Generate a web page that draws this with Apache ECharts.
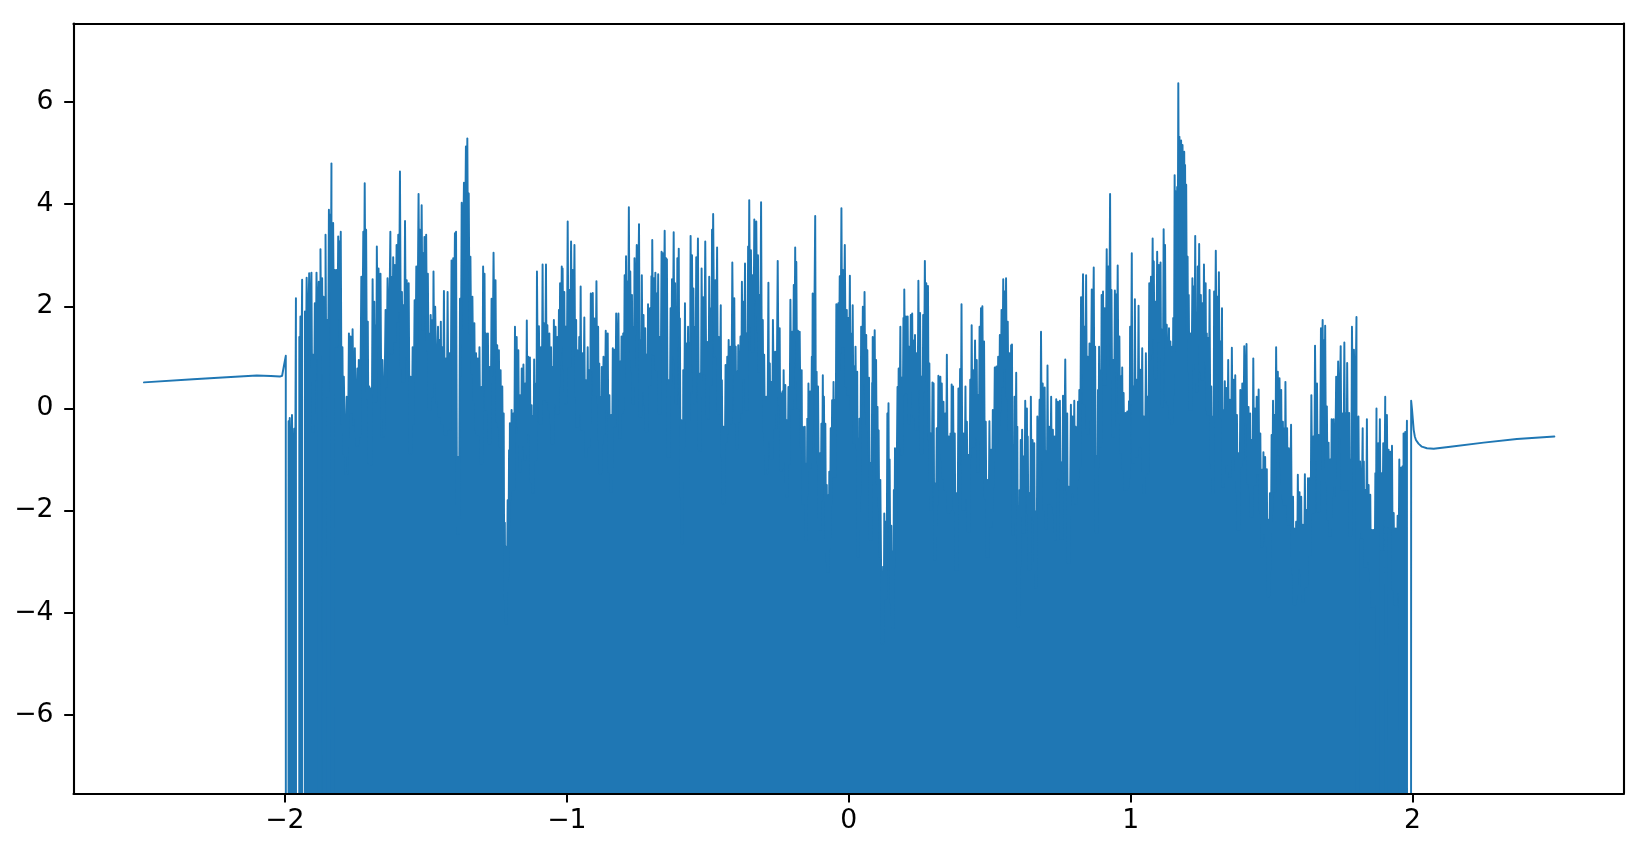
<!DOCTYPE html>
<html>
<head>
<meta charset="utf-8">
<style>html,body{margin:0;padding:0;background:#fff}#c{width:1648px;height:848px}</style>
<script src="https://cdn.jsdelivr.net/npm/echarts@6/dist/echarts.min.js"></script>
</head>
<body>
<div id="c"></div>
<script>
const xTicks = [-2, -1, 0, 1, 2];
const yTicks = [-6, -4, -2, 0, 2, 4, 6];
const xRange = [-2.75, 2.75];
const yRange = [-7.54, 7.54];

const tailLeft = [[-2.5,0.51],[-2.326,0.57],[-2.207,0.61],[-2.1,0.643],[-2.05,0.635],[-2.018,0.624],[-2.01,0.64],[-2.004,0.82],[-1.997,1.03]];
const tailRight = [[1.995,0.15],[1.998,-0.02],[2.001,-0.22],[2.004,-0.42],[2.008,-0.55],[2.012,-0.62],[2.021,-0.69],[2.033,-0.75],[2.051,-0.78],[2.075,-0.79],[2.134,-0.75],[2.252,-0.67],[2.37,-0.6],[2.503,-0.55]];

const spikesA = [[-1.987,-0.25],[-1.983,-0.19],[-1.975,-0.13],[-1.967,-0.4],[-1.961,2.16],[-1.949,1.4],[-1.945,1.8],[-1.939,2.52],[-1.929,1.9],[-1.923,2.56],[-1.914,2.65],[-1.906,2.66],[-1.9,1.05],[-1.894,2.06],[-1.888,2.66],[-1.88,2.48],[-1.874,3.12],[-1.868,2.55],[-1.863,2.19],[-1.856,3.4],[-1.85,1.73],[-1.844,3.89],[-1.839,3.8],[-1.835,4.8],[-1.829,3.63],[-1.823,2.71],[-1.817,2.71],[-1.811,3.37],[-1.807,3.27],[-1.802,3.46]];

const spikesB = [[-1.796,1.2],[-1.791,0.62],[-1.781,0.23],[-1.773,1.47],[-1.767,1.41],[-1.76,1.55],[-1.752,1.18],[-1.743,0.78],[-1.738,0.95],[-1.729,2.58],[-1.722,3.46],[-1.717,4.41],[-1.712,3.5],[-1.706,1.7],[-1.701,0.43],[-1.696,0.39],[-1.689,2.53],[-1.683,2.09],[-1.678,1.63],[-1.674,3.17],[-1.668,2.74],[-1.661,2.64],[-1.654,0.95],[-1.643,1.93],[-1.636,2.55],[-1.626,3.46],[-1.622,2.58],[-1.616,2.96],[-1.61,2.81],[-1.604,3.2],[-1.598,3.4],[-1.592,4.64],[-1.585,2.28],[-1.58,2.02],[-1.574,3.67],[-1.568,2.51],[-1.561,2.45],[-1.554,0.62],[-1.547,1.2],[-1.54,2.12],[-1.534,2.78],[-1.526,4.2],[-1.521,3.5],[-1.515,3.98],[-1.509,3.04],[-1.505,3.36],[-1.499,3.4],[-1.493,2.64],[-1.486,1.47],[-1.483,1.83],[-1.477,1.73],[-1.473,2.68],[-1.467,1.99],[-1.457,1.6],[-1.452,1.34],[-1.447,1.7],[-1.442,1.2],[-1.436,2.3],[-1.429,0.98],[-1.423,2.28],[-1.416,1.08],[-1.409,2.9],[-1.403,2.94],[-1.397,3.43],[-1.393,3.46],[-1.386,-0.95],[-1.379,2.15],[-1.373,4.03],[-1.365,4.42],[-1.358,5.13],[-1.353,5.29],[-1.348,4.21],[-1.342,2.97],[-1.335,2.19],[-1.328,1.67],[-1.322,1.08],[-1.316,0.98],[-1.31,1.2],[-1.303,0.42],[-1.297,2.78],[-1.292,2.64],[-1.287,1.47],[-1.28,1.47],[-1.274,0.81],[-1.267,2.15],[-1.26,3.05],[-1.253,2.51],[-1.247,1.24],[-1.241,1.14],[-1.235,0.75],[-1.229,0.43],[-1.224,-0.1],[-1.22,-2.24],[-1.216,-2.71],[-1.21,-1.8],[-1.205,-0.82],[-1.202,-0.29],[-1.196,-0.03],[-1.19,-0.1],[-1.184,1.6],[-1.178,1.4],[-1.172,1.14],[-1.166,0.26],[-1.16,0.78],[-1.154,0.86],[-1.148,0.49],[-1.142,1.72],[-1.137,1.01],[-1.131,1.0],[-1.125,0.06],[-1.121,-0.15],[-1.116,0.96],[-1.11,0.49],[-1.106,2.68],[-1.099,1.61],[-1.092,1.2],[-1.086,2.82],[-1.081,1.67],[-1.074,2.82],[-1.069,1.63],[-1.062,1.47],[-1.056,1.2],[-1.051,0.81],[-1.046,1.73],[-1.04,1.6],[-1.034,1.4],[-1.028,1.93],[-1.024,2.45],[-1.018,2.78],[-1.015,2.74],[-1.009,2.28],[-1.004,1.6],[-0.997,3.66],[-0.991,2.32],[-0.985,3.27],[-0.979,2.71],[-0.973,3.2],[-0.967,1.73],[-0.963,1.14],[-0.956,1.4],[-0.951,2.39],[-0.945,1.08],[-0.938,1.78],[-0.932,0.55],[-0.926,1.2],[-0.921,0.75],[-0.915,2.25],[-0.908,2.26],[-0.902,1.76],[-0.895,2.49],[-0.889,1.6],[-0.885,0.88],[-0.881,0.23],[-0.876,0.81],[-0.87,1.01],[-0.862,1.52],[-0.855,1.47],[-0.849,0.26],[-0.843,-0.13],[-0.837,1.18],[-0.831,1.15],[-0.825,1.86],[-0.817,1.86],[-0.811,0.92]];

const spikesC = [[-0.806,1.41],[-0.8,1.47],[-0.795,2.61],[-0.79,2.98],[-0.786,2.48],[-0.78,3.94],[-0.775,2.68],[-0.769,2.22],[-0.764,1.6],[-0.76,2.94],[-0.752,3.2],[-0.744,3.61],[-0.738,1.34],[-0.734,2.61],[-0.728,1.83],[-0.722,1.57],[-0.717,1.05],[-0.712,2.04],[-0.705,1.96],[-0.7,2.59],[-0.697,3.3],[-0.691,2.55],[-0.686,2.66],[-0.682,2.25],[-0.676,2.63],[-0.671,1.4],[-0.664,3.07],[-0.659,3.04],[-0.653,3.48],[-0.648,2.94],[-0.645,2.92],[-0.639,0.55],[-0.632,1.96],[-0.627,2.53],[-0.621,3.45],[-0.616,2.45],[-0.612,1.6],[-0.608,2.94],[-0.603,3.13],[-0.599,1.76],[-0.594,-0.23],[-0.59,-1.15],[-0.587,0.75],[-0.581,2.06],[-0.576,1.27],[-0.57,1.6],[-0.566,1.27],[-0.561,3.38],[-0.556,3.0],[-0.551,2.35],[-0.547,1.6],[-0.541,2.96],[-0.535,3.33],[-0.528,0.68],[-0.522,2.74],[-0.516,2.18],[-0.509,3.27],[-0.5,1.3],[-0.495,2.58],[-0.489,1.96],[-0.485,3.5],[-0.481,3.81],[-0.473,2.51],[-0.467,3.15],[-0.461,1.4],[-0.454,2.02],[-0.45,0.55],[-0.444,-0.36],[-0.437,0.85],[-0.431,1.01],[-0.426,1.34],[-0.42,1.21],[-0.413,2.86],[-0.406,2.16],[-0.401,1.21],[-0.396,0.72],[-0.392,1.24],[-0.384,1.41],[-0.379,2.48],[-0.374,2.09],[-0.368,2.84],[-0.362,1.47],[-0.357,3.17],[-0.353,4.08],[-0.347,3.1],[-0.341,2.61],[-0.335,3.7],[-0.328,3.66],[-0.322,3.0],[-0.317,2.22],[-0.311,4.04],[-0.305,1.73],[-0.3,1.05],[-0.293,0.23],[-0.285,2.46],[-0.28,0.88],[-0.274,0.52],[-0.269,1.73],[-0.261,1.11],[-0.252,2.89],[-0.245,1.57],[-0.24,0.29],[-0.235,0.33],[-0.231,0.75],[-0.225,0.46],[-0.22,-0.23],[-0.214,0.42],[-0.207,2.13],[-0.201,1.5],[-0.195,2.42],[-0.19,3.15],[-0.186,2.87],[-0.18,1.52],[-0.174,1.5],[-0.167,0.75],[-0.163,-0.36],[-0.156,-0.36],[-0.152,-1.08],[-0.147,-0.2],[-0.143,0.49],[-0.137,0.33],[-0.131,1.01],[-0.128,2.25],[-0.119,3.77],[-0.114,0.72],[-0.109,0.43],[-0.102,-0.88],[-0.097,-0.3],[-0.092,0.65],[-0.088,0.23],[-0.083,-0.3],[-0.078,-1.5],[-0.073,-1.7],[-0.069,-1.24],[-0.064,-0.39],[-0.059,0.16],[-0.054,0.52],[-0.05,0.16]];

const spikesD = [[-0.044,2.04],[-0.037,2.06],[-0.032,2.59],[-0.026,3.92],[-0.021,2.71],[-0.014,3.2],[-0.007,1.93],[-0.002,1.77],[0.004,2.6],[0.008,1.47],[0.014,2.02],[0.02,0.82],[0.024,1.21],[0.03,0.72],[0.034,-1.4],[0.038,-0.2],[0.044,1.6],[0.05,1.99],[0.056,2.28],[0.062,1.44],[0.066,1.14],[0.072,0.6],[0.078,-1.07],[0.083,0.5],[0.085,1.4],[0.092,1.53],[0.097,0.95],[0.102,0.03],[0.106,-0.43],[0.112,-1.4],[0.122,-3.1],[0.126,-2.06],[0.131,-2.22],[0.137,-0.1],[0.141,0.1],[0.145,-1.0],[0.151,-2.3],[0.156,-2.8],[0.16,-1.6],[0.164,-0.78],[0.173,0.42],[0.177,0.78],[0.183,1.6],[0.188,0.6],[0.194,1.77],[0.197,2.33],[0.203,1.8],[0.209,1.8],[0.214,1.21],[0.22,1.83],[0.225,1.86],[0.231,1.33],[0.235,1.44],[0.241,1.08],[0.247,2.5],[0.253,1.87],[0.259,0.62],[0.264,1.83],[0.27,2.89],[0.275,2.45],[0.281,2.4],[0.286,0.88],[0.291,-0.49],[0.297,0.51],[0.301,0.49],[0.306,-1.47],[0.312,-0.39],[0.318,0.64],[0.325,0.62],[0.33,0.49],[0.336,0.13],[0.342,-0.1],[0.348,1.05],[0.355,-0.55],[0.361,-0.49],[0.365,0.47],[0.37,0.43],[0.376,-0.49],[0.382,-1.66],[0.389,0.39],[0.395,0.77],[0.4,2.04],[0.407,-0.49],[0.414,0.43],[0.419,-0.26],[0.425,-0.91],[0.431,0.56],[0.436,1.63],[0.442,0.75],[0.448,1.33],[0.454,0.95],[0.459,0.26],[0.464,1.6],[0.469,1.96],[0.474,2.0],[0.48,1.31],[0.486,-0.26],[0.492,-1.4],[0.499,-0.25],[0.505,-0.81],[0.511,-0.03],[0.518,0.8],[0.524,0.82],[0.53,1.01],[0.536,1.44],[0.542,1.93],[0.548,2.53],[0.553,2.29],[0.558,2.55],[0.564,1.7],[0.57,1.08],[0.576,1.24],[0.579,1.25],[0.584,-0.98],[0.588,0.23],[0.594,0.7],[0.598,-0.36],[0.602,-2.77],[0.606,-1.6],[0.61,-0.62],[0.615,-0.42],[0.62,-0.94],[0.626,0.15],[0.632,0],[0.635,-0.55],[0.641,-1.66],[0.646,0.23],[0.652,-0.62],[0.658,-0.68],[0.664,-2.02],[0.669,-0.16],[0.677,0.17],[0.682,1.5],[0.688,0.49],[0.692,-0.49],[0.695,0.41],[0.7,-0.85],[0.705,0.84],[0.711,-0.36],[0.718,0.23],[0.724,-0.42],[0.73,-0.55],[0.733,-1.07],[0.736,0.18],[0.742,0.13],[0.749,0.15],[0.755,-1.06],[0.76,0.25],[0.768,0.96],[0.775,-0.1],[0.779,-1.53],[0.788,0.07],[0.794,-0.16],[0.8,0.15],[0.805,-0.36],[0.813,0.13],[0.818,0.36],[0.824,2.18],[0.831,2.63],[0.837,1.6],[0.842,2.61],[0.848,1.01],[0.854,1.27],[0.862,2.33],[0.869,2.76],[0.874,1.21],[0.879,-0.94],[0.884,0.36],[0.888,1.21],[0.893,0.75],[0.897,2.22],[0.902,2.29],[0.908,1.96]];

const spikesE = [[0.915,3.12],[0.921,2.78],[0.927,4.2],[0.932,2.32],[0.938,0.95],[0.944,2.31],[0.949,2.23],[0.954,2.8],[0.96,1.41],[0.966,0.63],[0.97,0.8],[0.975,0.3],[0.982,-0.09],[0.988,-0.06],[0.994,0.14],[0.998,1.6],[1.004,3.04],[1.009,0.43],[1.015,2.14],[1.021,0.56],[1.028,2.01],[1.034,0.76],[1.041,1.18],[1.047,-0.16],[1.054,1.08],[1.06,0.23],[1.066,2.45],[1.072,2.58],[1.078,3.33],[1.082,2.88],[1.088,2.09],[1.094,3.07],[1.1,2.81],[1.106,2.86],[1.111,1.54],[1.117,3.51],[1.122,3.2],[1.128,1.64],[1.136,1.57],[1.141,1.31],[1.147,1.21],[1.151,1.77],[1.156,4.57],[1.16,4.25],[1.165,4.34],[1.169,6.37],[1.173,5.32],[1.179,5.25],[1.184,5.16],[1.19,5.03],[1.193,4.77],[1.197,4.38],[1.202,2.97],[1.206,2.22],[1.212,1.47],[1.219,2.55],[1.224,2.39],[1.229,3.38],[1.235,1.83],[1.238,2.78],[1.243,3.22],[1.249,2.22],[1.255,2.06],[1.26,2.82],[1.266,2.45],[1.27,1.47],[1.275,1.38],[1.28,2.32],[1.286,0.43],[1.292,-0.16],[1.296,2.29],[1.302,3.09],[1.308,2.19],[1.313,2.67],[1.319,1.31],[1.324,1.96],[1.328,-0.03],[1.334,0.53],[1.34,0.4],[1.346,0.95],[1.352,0.17],[1.359,1.19]];

const spikesF = [[1.365,0.56],[1.371,0.65],[1.377,-0.13],[1.383,-0.88],[1.389,0.36],[1.396,0.49],[1.403,1.22],[1.411,1.26],[1.418,0.03],[1.424,-0.1],[1.429,-0.62],[1.435,0.98],[1.441,0],[1.447,0.23],[1.454,0.37],[1.46,-0.49],[1.466,-1.2],[1.471,-0.86],[1.477,-0.95],[1.483,-1.19],[1.488,-2.18],[1.494,-1.66],[1.5,-0.52],[1.505,0.15],[1.51,-0.13],[1.516,1.2],[1.522,0.72],[1.528,0.59],[1.534,0.36],[1.54,-0.26],[1.545,-0.39],[1.549,0.52],[1.555,-0.39],[1.561,-0.78],[1.569,-0.32],[1.576,-1.73],[1.58,-2.35],[1.587,-2.22],[1.593,-1.3],[1.599,-1.64],[1.605,-1.73],[1.611,-2.28],[1.618,-1.29],[1.624,-1.99],[1.629,-1.37],[1.635,-1.37],[1.641,0.26],[1.648,-0.55],[1.654,1.23],[1.661,0.49],[1.667,-0.52],[1.675,1.57],[1.681,1.73],[1.684,1.34],[1.69,1.62],[1.696,0.04],[1.702,-0.67],[1.708,-1.0],[1.713,-0.21],[1.72,-0.21],[1.729,0.62],[1.736,0.92],[1.745,1.22],[1.751,-0.1],[1.758,1.29],[1.764,-0.09],[1.768,0.89],[1.775,-0.09],[1.779,-1.0],[1.785,1.6],[1.792,1.15],[1.801,1.79],[1.808,-0.16],[1.814,-1.04],[1.823,-0.39],[1.827,-1.04],[1.832,-1.6],[1.838,-0.21],[1.844,-1.5],[1.85,-1.69],[1.856,-2.38],[1.862,-2.38],[1.868,-1.27],[1.872,0],[1.878,-0.68],[1.884,-0.21],[1.89,-1.27],[1.896,-0.68],[1.903,0.23],[1.909,-0.13],[1.915,-0.81],[1.921,-0.85],[1.927,-0.73],[1.933,-2.05],[1.94,-2.35],[1.947,-2.1],[1.953,-1.0],[1.958,-1.16],[1.964,-1.14],[1.968,-0.49],[1.974,-0.46],[1.98,-0.24]];

// Positions where the oscillation's minima reach far below the plot, leaving a thin slit.
const openSlits = [-1.992,-1.955,-1.935,-1.906,-1.876,-1.858,-1.833,1.805,1.823,1.838,1.874,1.906,1.927,1.955,1.966,1.988];
const notchDepth = 1.5;
const deepMinimum = -200;

const spikes = [...spikesA, ...spikesB, ...spikesC, ...spikesD, ...spikesE, ...spikesF];

function teeth(crests) {
  const curve = [];
  crests.forEach((p, i) => {
    curve.push(p);
    const n = crests[i + 1];
    if (!n) return;
    const slit = openSlits.some(s => s > p[0] && s < n[0]);
    curve.push([(p[0] + n[0]) / 2, slit ? deepMinimum : Math.min(p[1], n[1]) - notchDepth]);
  });
  return curve;
}

const fullCurve = [
  ...tailLeft.slice(0, -1),
  ...teeth([tailLeft[tailLeft.length - 1], ...spikes, tailRight[0]]),
  ...tailRight.slice(1)
];

const minusFmt = v => String(v).replace('-', '\u2212');
const labelStyle = { color: '#000', fontFamily: 'DejaVu Sans', fontSize: 26.67 };
const lineStyle = { color: '#000', width: 2.1 };

const chart = echarts.init(document.getElementById('c'), null, { renderer: 'canvas' });
chart.setOption({
  animation: false,
  backgroundColor: '#fff',
  grid: { left: 73.5, right: 24, top: 23.5, bottom: 54.7, containLabel: false },
  xAxis: [
    { type: 'value', position: 'bottom', min: xRange[0], max: xRange[1], z: 5, splitLine: { show: false },
      axisLine: { show: true, onZero: false, lineStyle },
      axisTick: { show: true, length: 9.3, lineStyle: { color: '#000', width: 2 }, customValues: xTicks },
      axisLabel: { ...labelStyle, margin: 14, formatter: minusFmt, customValues: xTicks, showMinLabel: true, showMaxLabel: true } },
    { type: 'value', position: 'top', min: xRange[0], max: xRange[1], z: 5, splitLine: { show: false },
      axisLine: { show: true, onZero: false, lineStyle }, axisTick: { show: false }, axisLabel: { show: false } }
  ],
  yAxis: [
    { type: 'value', position: 'left', min: yRange[0], max: yRange[1], z: 5, splitLine: { show: false },
      axisLine: { show: true, onZero: false, lineStyle },
      axisTick: { show: true, length: 9.3, lineStyle: { color: '#000', width: 2 }, customValues: yTicks },
      axisLabel: { ...labelStyle, margin: 20, formatter: minusFmt, customValues: yTicks } },
    { type: 'value', position: 'right', min: yRange[0], max: yRange[1], z: 5, splitLine: { show: false },
      axisLine: { show: true, onZero: false, lineStyle }, axisTick: { show: false }, axisLabel: { show: false } }
  ],
  series: [
    {
      type: 'line', data: teeth(spikes), showSymbol: false, symbol: 'none', clip: true, progressive: 0, silent: true,
      lineStyle: { width: 0, opacity: 0 },
      areaStyle: { color: '#1f77b4', opacity: 1, origin: 'start' }
    },
    {
      type: 'line', data: fullCurve, showSymbol: false, symbol: 'none', clip: true, progressive: 0, silent: true,
      lineStyle: { color: '#1f77b4', width: 1.95, join: 'round', cap: 'round' }
    }
  ]
});
</script>
</body>
</html>
